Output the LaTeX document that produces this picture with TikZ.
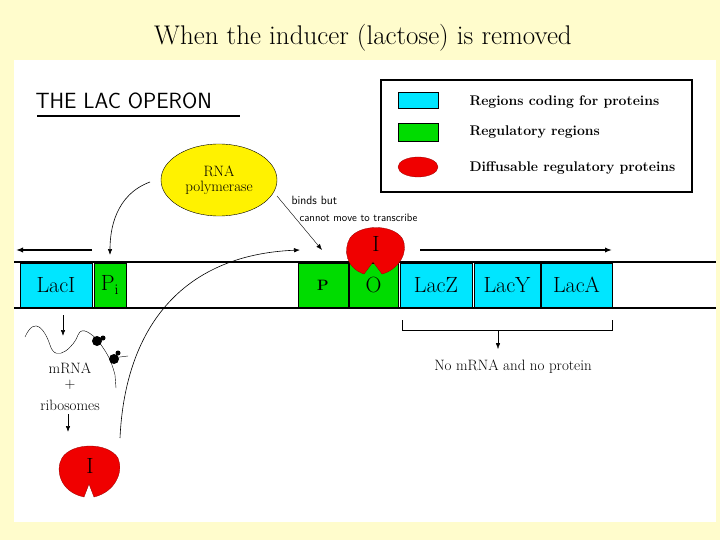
\documentclass[tikz,border=0pt]{standalone}
\usetikzlibrary{arrows.meta,shapes.geometric}
\definecolor{cyc}{RGB}{0,230,255}
\definecolor{grc}{RGB}{0,220,0}
\definecolor{rdc}{RGB}{240,0,0}
\newcommand{\fs}[1]{\fontsize{#1}{#1}\selectfont}
\begin{document}
\begin{tikzpicture}[x=1pt,y=-1pt,
  dna/.style={draw=black,line width=1pt,minimum height=44pt,inner sep=0pt,font=\fs{22}},
  cy/.style={dna,fill=cyc},
  gr/.style={dna,fill=grc},
  arr/.style={-{Latex[length=6pt]},line width=0.6pt},
  rep/.style={fill=rdc,draw=red!60!black,line width=0.3pt}]
\fill[yellow!20] (0,0) rectangle (720,540);
\fill[white] (14,60) rectangle (716,522);
\node (title) at (363,38) {\fs{27}When the inducer (lactose) is removed};
\node[anchor=west] (head) at (32,101) {\sffamily\fs{22}THE LAC OPERON};
\draw[line width=1.2pt] (37,116) -- (240,116);
% legend
\draw[line width=2pt] (381,80) rectangle (692,192);
\node[draw,fill=cyc,minimum width=40pt,minimum height=16pt] (lc) at (418,100) {};
\node[draw,fill=grc,minimum width=40pt,minimum height=18pt] (lg) at (418,132) {};
\node[rep,ellipse,minimum width=40pt,minimum height=20pt] (lr) at (418,167) {};
\node[anchor=west,font=\bfseries\fs{14}] (t1) at (466,102) {Regions coding for proteins};
\node[anchor=west,font=\bfseries\fs{14}] (t2) at (466,132) {Regulatory regions};
\node[anchor=west,font=\bfseries\fs{14}] (t3) at (466,168) {Diffusable regulatory proteins};
% DNA
\draw[line width=2pt] (14,262) -- (716,262) (14,308) -- (716,308);
\node[cy,minimum width=72pt] (laci) at (56,285) {LacI};
\node[gr,minimum width=32pt] (pi) at (110,285) {P$_{\rm i}$};
\node[gr,minimum width=50pt,font=\bfseries\fs{15}] (p) at (323,285) {P};
\node[gr,minimum width=49pt] (o) at (373.5,285) {O};
\node[cy,minimum width=72pt] (lacz) at (436,285) {LacZ};
\node[cy,minimum width=66pt] (lacy) at (507,285) {LacY};
\node[cy,minimum width=71pt] (laca) at (576.5,285) {LacA};
\coordinate (la1) at (92,250); \coordinate (la2) at (16,250);
\draw[-{Latex[length=7pt]},line width=1.5pt] (la1) -- (la2);
\coordinate (ra1) at (420,250); \coordinate (ra2) at (612,250);
\draw[-{Latex[length=7pt]},line width=1.5pt] (ra1) -- (ra2);
% RNA polymerase
\node[ellipse,draw,fill=yellow,minimum width=116pt,minimum height=72pt,align=center,inner sep=0pt,font=\fs{15}] (pol) at (219,180) {RNA\\polymerase};
\coordinate (c1) at (150,182); \coordinate (c2) at (110,255);
\draw[arr] (c1) .. controls (115,195) and (110,230) .. (c2);
\coordinate (c3) at (277,196); \coordinate (c4) at (322,250);
\draw[arr,line width=0.4pt] (c3) -- (c4);
\node[anchor=west,font=\sffamily\fs{12}] (bb) at (288,200) {binds but};
\node[anchor=west,font=\sffamily\fs{11}] (cm) at (296,218) {cannot move to transcribe};
% repressor on operator
\path[rep] (373,262) -- (364,274) .. controls (346,268) and (343,250) .. (350,238) .. controls (360,224) and (392,224) .. (402,238) .. controls (410,252) and (398,270) .. (382,274) -- cycle;
\node (ri) at (376,244) {\fs{22}I};
% mRNA
\coordinate (m1) at (63,315); \coordinate (m2) at (63,336);
\draw[arr] (m1) -- (m2);
\draw[line width=0.4pt] (25,337) .. controls (35,315) and (45,330) .. (50,345) .. controls (56,365) and (75,345) .. (78,335) .. controls (82,325) and (92,335) .. (98,340) .. controls (104,350) and (110,355) .. (115,375) -- (116,388);
\draw[line width=0.4pt] (112,358) -- (128,356);
\fill (97,341) circle (5); \fill (103,338) circle (2.5);
\fill (114,359) circle (5); \fill (118,353) circle (2.5);
\node (mr) at (70,368) {\fs{15}mRNA};
\node (pl) at (70,385) {\fs{15}+};
\node (rib) at (70,405) {\fs{15}ribosomes};
\coordinate (m3) at (68,414); \coordinate (m4) at (68,432);
\draw[arr] (m3) -- (m4);
% free repressor
\path[rep] (89,484) -- (84,497) .. controls (60,492) and (55,470) .. (62,458) .. controls (72,442) and (108,442) .. (118,458) .. controls (124,472) and (115,492) .. (94,497) -- cycle;
\node (fi) at (90,466) {\fs{22}I};
\coordinate (f1) at (120,438); \coordinate (f2) at (300,250);
\draw[arr] (f1) .. controls (125,330) and (180,255) .. (f2);
% bracket
\draw[line width=0.8pt] (402,320) -- (402,330) -- (612,330) -- (612,320);
\coordinate (b1) at (498,330); \coordinate (b2) at (498,349);
\draw[arr,line width=0.4pt] (b1) -- (b2);
\node (nm) at (513,367) {\fs{15}No mRNA and no protein};
\end{tikzpicture}
\end{document}
